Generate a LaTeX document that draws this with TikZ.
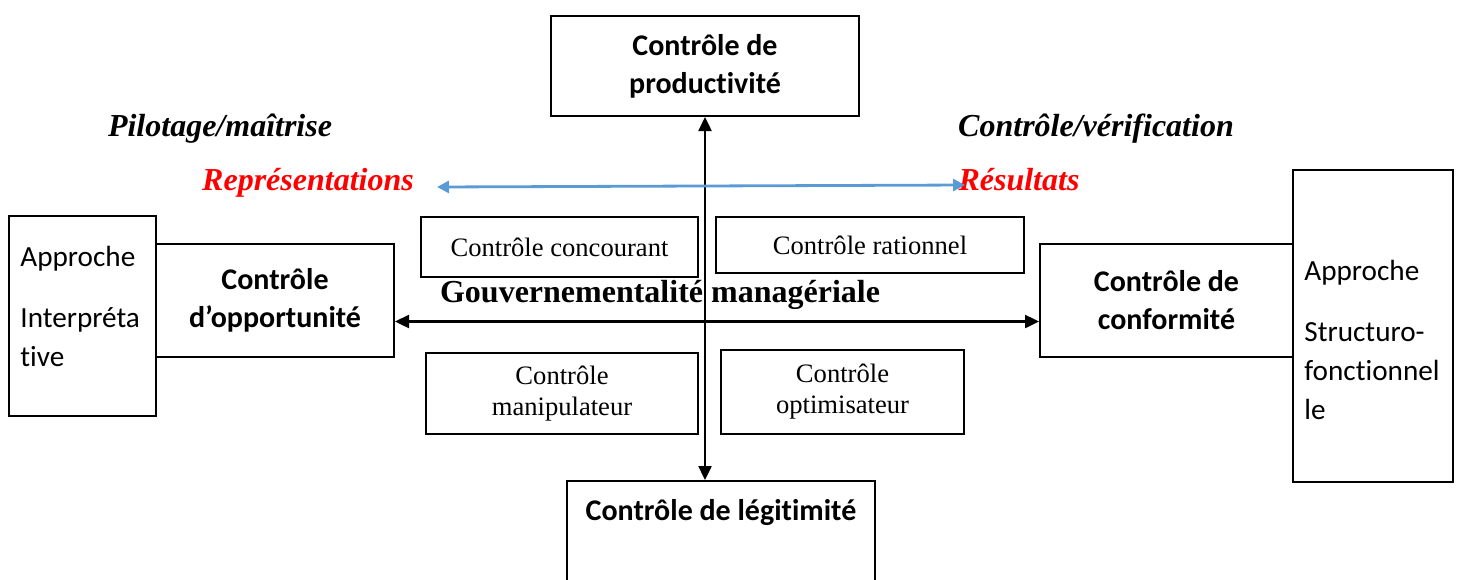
\documentclass[tikz,border=0pt]{standalone}
\usepackage{fontspec}
\setmainfont{Liberation Serif}
\newfontfamily\calibri[Ligatures=NoCommon]{Carlito}
\usepackage{xcolor}
\usetikzlibrary{arrows.meta}
\definecolor{arrblue}{RGB}{91,155,213}
\tikzset{
  box/.style={draw, line width=1pt, inner sep=0pt},
  bbox/.style={box, align=center, font=\calibri\bfseries\fontsize{15}{19}\selectfont},
  sbox/.style={box, align=center, font=\fontsize{13.3}{15.5}\selectfont},
  apbox/.style={box},
  aptext/.style={anchor=north west, inner sep=0pt, align=left, font=\calibri\fontsize{14.6}{19.5}\selectfont},
  axis/.style={{Triangle[length=7pt,width=6.5pt]}-{Triangle[length=7pt,width=6.5pt]}, line width=1.2pt},
  headtxt/.style={anchor=base, inner sep=0pt, font=\bfseries\itshape\fontsize{16}{19}\selectfont},
}

\begin{document}
\begin{tikzpicture}[x=0.5pt,y=0.5pt,yscale=-1,xscale=1]
    \useasboundingbox (0,0) rectangle (1459,579);
    \clip (0,0) rectangle (1459,579);

    %Boxes of the four poles
    \node[bbox, minimum width=154pt, minimum height=50pt] (prod) at (705,66) {Contrôle de\\productivité};
    \node[bbox, minimum width=119pt, minimum height=56.5pt] (oppo) at (275,300.5) {Contrôle\\d’opportunité};
    \node[bbox, minimum width=126.5pt, minimum height=56.5pt] (conf) at (1166.5,300.5) {Contrôle de\\conformité};
    \node[bbox, minimum width=154pt, text height=19.5pt, text depth=40pt, anchor=base] (legi) at (721,520) {Contrôle de légitimité};

    %Approach boxes
    \node[apbox, minimum width=73.5pt, minimum height=100pt] (lapp) at (82.5,316) {};
    \node[apbox, minimum width=80pt, minimum height=156pt] (rapp) at (1373,326) {};
    \node[aptext] (ltxt) at (20,246) {Approche\\[11pt]Interpréta\\tive};
    \node[aptext] (rtxt) at (1304,260) {Approche\\[11pt]Structuro-\\fonctionnel\\le};

    %Quadrant boxes
    \node[sbox, minimum width=138.5pt, minimum height=30pt] (conc) at (559.5,247) {Contrôle concourant};
    \node[sbox, minimum width=154pt, minimum height=28pt] (rati) at (870,245) {Contrôle rationnel};
    \node[sbox, minimum width=136pt, minimum height=40.5pt] (mani) at (562,393.5) {Contrôle\\manipulateur};
    \node[sbox, minimum width=121.5pt, minimum height=42pt] (opti) at (842.5,392) {Contrôle\\optimisateur};

    % Text Node
    \node[headtxt] (pilo) at (220,136) {Pilotage/maîtrise};
    % Text Node
    \node[headtxt] (veri) at (1096,136) {Contrôle/vérification};
    % Text Node
    \node[headtxt, text=red] (repr) at (308,190) {Représentations};
    % Text Node
    \node[headtxt, text=red] (resu) at (1019,190) {Résultats};
    % Text Node
    \node[anchor=base, inner sep=0pt, font=\bfseries\fontsize{16}{19}\selectfont] (gouv) at (660,302) {Gouvernementalité managériale};

    %Axes
    \draw[axis] (prod.south) -- (prod.south |- legi.north);
    \draw[axis] ([yshift=10.5pt]oppo.east) -- ([yshift=10.5pt]conf.west);
    \coordinate (bl) at (437,187);
    \coordinate (br) at (965,185);
    \draw[{Triangle[length=6pt,width=6pt]}-{Triangle[length=6pt,width=6pt]}, arrblue, line width=1.4pt] (bl) -- (br);

\end{tikzpicture}
\end{document}
